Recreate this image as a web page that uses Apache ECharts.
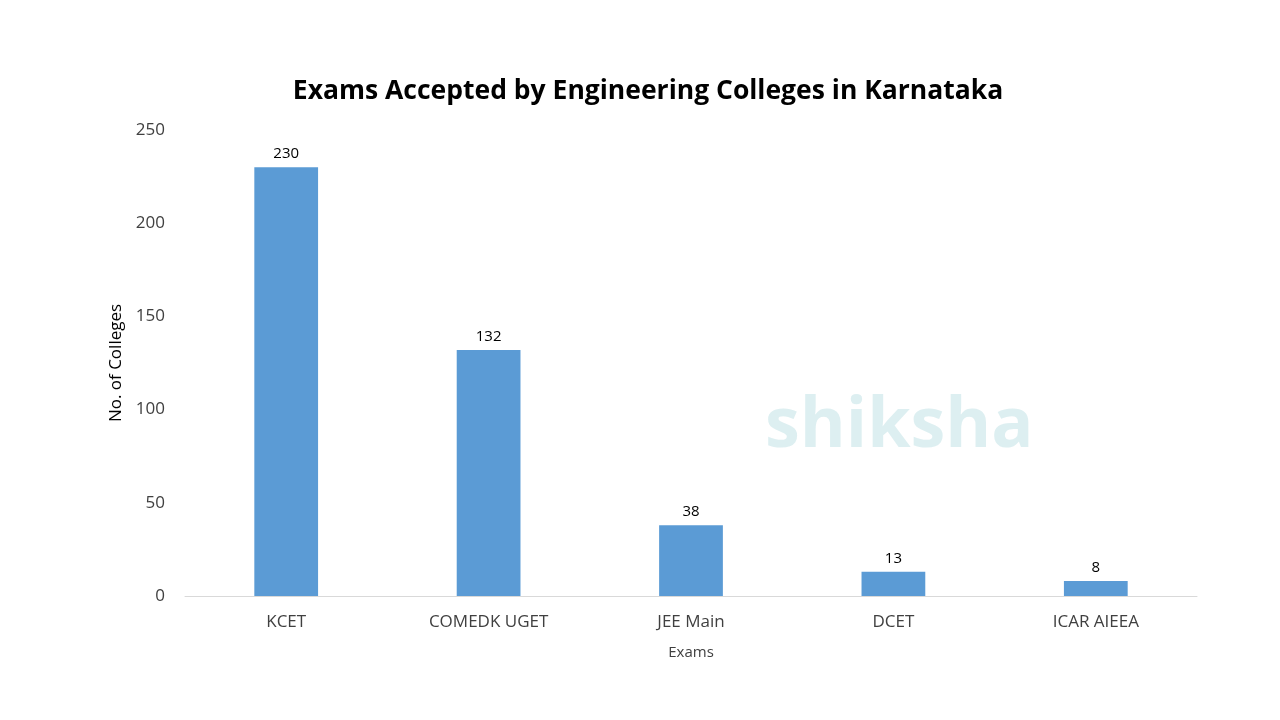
<!DOCTYPE html>
<html><head><meta charset="utf-8">
<script src="https://cdn.jsdelivr.net/npm/echarts@6/dist/echarts.min.js"></script>
<style>html,body{margin:0;background:#fff}#c{width:1280px;height:720px}</style>
</head><body><div id="c"></div>
<script>
const categories = ["KCET","COMEDK UGET","JEE Main","DCET","ICAR AIEEA"];
const values = [230,132,38,13,8];
const yTicks = [0,50,100,150,200,250];
const chart = echarts.init(document.getElementById('c'));
const F = '"Open Sans", "Noto Sans", sans-serif';
chart.setOption({
  backgroundColor:'#fff',
  textStyle:{fontFamily:F},
  title:{text:'Exams Accepted by Engineering Colleges in Karnataka',left:643,textAlign:'center',top:73,
    textStyle:{fontSize:26.5,fontWeight:'bold',color:'#000',fontFamily:F}},
  graphic:[{type:'text',left:765,top:392,z:-1,style:{text:'shiksha',fontSize:70,fontWeight:'bold',fill:'rgba(120,190,200,0.25)',fontFamily:F}}],
  grid:{left:185,right:83,top:130,bottom:124},
  xAxis:{type:'category',data:categories,name:'Exams',nameLocation:'middle',nameGap:49,
    nameTextStyle:{fontSize:15,color:'#404040'},
    axisLine:{lineStyle:{color:'#d9d9d9'}},axisTick:{show:false},
    axisLabel:{fontSize:17,color:'#404040',margin:18}},
  yAxis:{type:'value',min:yTicks[0],max:yTicks[yTicks.length-1],interval:50,
    name:'No. of Colleges',nameLocation:'middle',nameGap:48,nameTextStyle:{fontSize:17,color:'#000'},
    axisLine:{show:false},axisTick:{show:false},splitLine:{show:false},
    axisLabel:{fontSize:17,color:'#404040',margin:20}},
  series:[{type:'bar',data:values,barWidth:'31.5%',itemStyle:{color:'#5b9bd5'},
    label:{show:true,position:'top',fontSize:15,color:'#000',distance:6}}]
});
</script></body></html>
